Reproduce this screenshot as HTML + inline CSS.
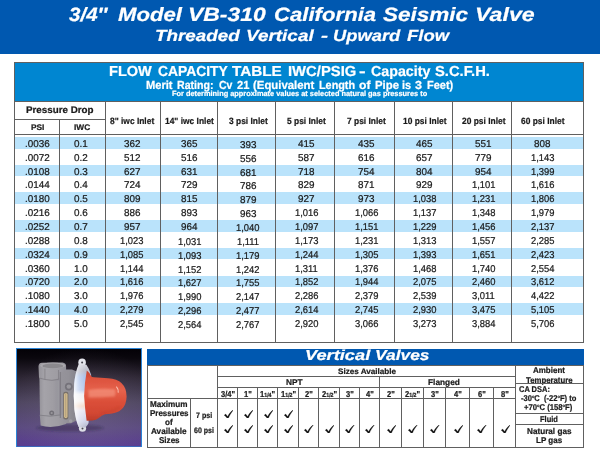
<!DOCTYPE html>
<html lang="en"><head><meta charset="utf-8"><title>3/4" Model VB-310 California Seismic Valve</title>
<style>
html,body{margin:0;padding:0;background:#fff;}
body{width:600px;height:451px;position:relative;overflow:hidden;text-rendering:geometricPrecision;font-family:"Liberation Sans",sans-serif;color:#1a1a1a;}
.t{position:absolute;white-space:nowrap;margin:0;padding:0;transform-origin:0 50%;-webkit-text-stroke:0.22px;}
.r{position:absolute;box-sizing:content-box;}
svg{position:absolute;}
</style></head><body>
<div class="r" style="left:0.00px;top:0.00px;width:600.00px;height:54.00px;background:#0058b0;"></div>
<div class="t" style="left:69.00px;top:4px;font-size:19.2px;line-height:24px;font-weight:700;font-style:italic;color:#fff;transform:scaleX(1.0717);">3/4″</div>
<div class="t" style="left:117.60px;top:4px;font-size:19.2px;line-height:24px;font-weight:700;font-style:italic;color:#fff;transform:scaleX(1.1542);">Model</div>
<div class="t" style="left:188.40px;top:4px;font-size:19.2px;line-height:24px;font-weight:700;font-style:italic;color:#fff;transform:scaleX(1.1950);">VB-310</div>
<div class="t" style="left:274.00px;top:4px;font-size:19.2px;line-height:24px;font-weight:700;font-style:italic;color:#fff;transform:scaleX(1.1541);">California</div>
<div class="t" style="left:383.20px;top:4px;font-size:19.2px;line-height:24px;font-weight:700;font-style:italic;color:#fff;transform:scaleX(1.1739);">Seismic</div>
<div class="t" style="left:475.30px;top:4px;font-size:19.2px;line-height:24px;font-weight:700;font-style:italic;color:#fff;transform:scaleX(1.2071);">Valve</div>
<div class="t" style="left:155.00px;top:27px;font-size:16.0px;line-height:20px;font-weight:700;font-style:italic;color:#fff;transform:scaleX(1.1759);">Threaded</div>
<div class="t" style="left:246.00px;top:27px;font-size:16.0px;line-height:20px;font-weight:700;font-style:italic;color:#fff;transform:scaleX(1.1829);">Vertical</div>
<div class="t" style="left:320.60px;top:27px;font-size:16.0px;line-height:20px;font-weight:700;font-style:italic;color:#fff;transform:scaleX(1.3138);">-</div>
<div class="t" style="left:332.80px;top:27px;font-size:16.0px;line-height:20px;font-weight:700;font-style:italic;color:#fff;transform:scaleX(1.1469);">Upward</div>
<div class="t" style="left:407.20px;top:27px;font-size:16.0px;line-height:20px;font-weight:700;font-style:italic;color:#fff;transform:scaleX(1.1524);">Flow</div>
<div class="r" style="left:14.50px;top:62.00px;width:569.00px;height:39.25px;background:#0086d1;"></div>
<div class="t" style="left:109.20px;top:63px;font-size:14.4px;line-height:19px;font-weight:700;color:#fff;transform:scaleX(1.0099);">FLOW</div>
<div class="t" style="left:158.20px;top:63px;font-size:14.4px;line-height:19px;font-weight:700;color:#fff;transform:scaleX(0.9623);">CAPACITY</div>
<div class="t" style="left:232.20px;top:63px;font-size:14.4px;line-height:19px;font-weight:700;color:#fff;transform:scaleX(1.0612);">TABLE</div>
<div class="t" style="left:287.60px;top:63px;font-size:14.4px;line-height:19px;font-weight:700;color:#fff;transform:scaleX(1.0286);">IWC/PSIG</div>
<div class="t" style="left:359.00px;top:63px;font-size:14.4px;line-height:19px;font-weight:700;color:#fff;transform:scaleX(1.3764);">-</div>
<div class="t" style="left:370.80px;top:63px;font-size:14.4px;line-height:19px;font-weight:700;color:#fff;transform:scaleX(0.9897);">Capacity</div>
<div class="t" style="left:434.60px;top:63px;font-size:14.4px;line-height:19px;font-weight:700;color:#fff;transform:scaleX(1.0259);">S.C.F.H.</div>
<div class="t" style="left:146.20px;top:78px;font-size:11.7px;line-height:15px;font-weight:700;color:#fff;transform:scaleX(0.9517);">Merit</div>
<div class="t" style="left:176.80px;top:78px;font-size:11.7px;line-height:15px;font-weight:700;color:#fff;transform:scaleX(0.9083);">Rating:</div>
<div class="t" style="left:218.80px;top:78px;font-size:11.7px;line-height:15px;font-weight:700;color:#fff;transform:scaleX(0.8962);">Cv</div>
<div class="t" style="left:236.80px;top:78px;font-size:11.7px;line-height:15px;font-weight:700;color:#fff;transform:scaleX(0.9531);">21</div>
<div class="t" style="left:253.20px;top:78px;font-size:11.7px;line-height:15px;font-weight:700;color:#fff;transform:scaleX(0.9736);">(Equivalent</div>
<div class="t" style="left:318.70px;top:78px;font-size:11.7px;line-height:15px;font-weight:700;color:#fff;transform:scaleX(0.9257);">Length</div>
<div class="t" style="left:358.50px;top:78px;font-size:11.7px;line-height:15px;font-weight:700;color:#fff;transform:scaleX(1.0390);">of</div>
<div class="t" style="left:374.50px;top:78px;font-size:11.7px;line-height:15px;font-weight:700;color:#fff;transform:scaleX(0.9713);">Pipe</div>
<div class="t" style="left:402.40px;top:78px;font-size:11.7px;line-height:15px;font-weight:700;color:#fff;transform:scaleX(0.9326);">is</div>
<div class="t" style="left:415.10px;top:78px;font-size:11.7px;line-height:15px;font-weight:700;color:#fff;transform:scaleX(1.0761);">3</div>
<div class="t" style="left:426.60px;top:78px;font-size:11.7px;line-height:15px;font-weight:700;color:#fff;transform:scaleX(0.9373);">Feet)</div>
<div class="t" style="left:171.60px;top:89px;font-size:7.6px;line-height:10px;font-weight:700;color:#fff;transform:scaleX(0.9722);">For determining approximate values at selected natural gas pressures to</div>
<div class="r" style="left:14.50px;top:137.00px;width:569.00px;height:11.50px;background:#bae3fb;"></div>
<div class="r" style="left:14.50px;top:164.72px;width:569.00px;height:11.50px;background:#bae3fb;"></div>
<div class="r" style="left:14.50px;top:192.44px;width:569.00px;height:11.50px;background:#bae3fb;"></div>
<div class="r" style="left:14.50px;top:220.16px;width:569.00px;height:11.50px;background:#bae3fb;"></div>
<div class="r" style="left:14.50px;top:247.88px;width:569.00px;height:11.50px;background:#bae3fb;"></div>
<div class="r" style="left:14.50px;top:275.60px;width:569.00px;height:11.50px;background:#bae3fb;"></div>
<div class="r" style="left:14.50px;top:303.32px;width:569.00px;height:11.50px;background:#bae3fb;"></div>
<div class="t" style="left:25.32px;top:138px;font-size:9.9px;line-height:13px;transform:scaleX(1.0008);">.0036</div>
<div class="t" style="left:74.22px;top:138px;font-size:9.9px;line-height:13px;transform:scaleX(1.0008);">0.1</div>
<div class="t" style="left:123.94px;top:138px;font-size:9.9px;line-height:13px;transform:scaleX(1.0008);">362</div>
<div class="t" style="left:181.44px;top:138px;font-size:9.9px;line-height:13px;transform:scaleX(1.0008);">365</div>
<div class="t" style="left:239.74px;top:139px;font-size:9.9px;line-height:13px;transform:scaleX(1.0008);">393</div>
<div class="t" style="left:298.24px;top:138px;font-size:9.9px;line-height:13px;transform:scaleX(1.0008);">415</div>
<div class="t" style="left:358.04px;top:138px;font-size:9.9px;line-height:13px;transform:scaleX(1.0008);">435</div>
<div class="t" style="left:416.34px;top:138px;font-size:9.9px;line-height:13px;transform:scaleX(1.0008);">465</div>
<div class="t" style="left:475.14px;top:138px;font-size:9.9px;line-height:13px;transform:scaleX(1.0008);">551</div>
<div class="t" style="left:534.44px;top:138px;font-size:9.9px;line-height:13px;transform:scaleX(1.0008);">808</div>
<div class="t" style="left:25.32px;top:152px;font-size:9.9px;line-height:13px;transform:scaleX(1.0008);">.0072</div>
<div class="t" style="left:74.22px;top:152px;font-size:9.9px;line-height:13px;transform:scaleX(1.0008);">0.2</div>
<div class="t" style="left:123.94px;top:152px;font-size:9.9px;line-height:13px;transform:scaleX(1.0008);">512</div>
<div class="t" style="left:181.44px;top:152px;font-size:9.9px;line-height:13px;transform:scaleX(1.0008);">516</div>
<div class="t" style="left:239.74px;top:153px;font-size:9.9px;line-height:13px;transform:scaleX(1.0008);">556</div>
<div class="t" style="left:298.24px;top:152px;font-size:9.9px;line-height:13px;transform:scaleX(1.0008);">587</div>
<div class="t" style="left:358.04px;top:152px;font-size:9.9px;line-height:13px;transform:scaleX(1.0008);">616</div>
<div class="t" style="left:416.34px;top:152px;font-size:9.9px;line-height:13px;transform:scaleX(1.0008);">657</div>
<div class="t" style="left:475.14px;top:152px;font-size:9.9px;line-height:13px;transform:scaleX(1.0008);">779</div>
<div class="t" style="left:530.93px;top:152px;font-size:9.9px;line-height:13px;transform:scaleX(0.9500);">1,143</div>
<div class="t" style="left:25.32px;top:166px;font-size:9.9px;line-height:13px;transform:scaleX(1.0008);">.0108</div>
<div class="t" style="left:74.22px;top:166px;font-size:9.9px;line-height:13px;transform:scaleX(1.0008);">0.3</div>
<div class="t" style="left:123.94px;top:166px;font-size:9.9px;line-height:13px;transform:scaleX(1.0008);">627</div>
<div class="t" style="left:181.44px;top:166px;font-size:9.9px;line-height:13px;transform:scaleX(1.0008);">631</div>
<div class="t" style="left:239.74px;top:167px;font-size:9.9px;line-height:13px;transform:scaleX(1.0008);">681</div>
<div class="t" style="left:298.24px;top:166px;font-size:9.9px;line-height:13px;transform:scaleX(1.0008);">718</div>
<div class="t" style="left:358.04px;top:166px;font-size:9.9px;line-height:13px;transform:scaleX(1.0008);">754</div>
<div class="t" style="left:416.34px;top:166px;font-size:9.9px;line-height:13px;transform:scaleX(1.0008);">804</div>
<div class="t" style="left:475.14px;top:166px;font-size:9.9px;line-height:13px;transform:scaleX(1.0008);">954</div>
<div class="t" style="left:530.93px;top:166px;font-size:9.9px;line-height:13px;transform:scaleX(0.9500);">1,399</div>
<div class="t" style="left:25.32px;top:179px;font-size:9.9px;line-height:13px;transform:scaleX(1.0008);">.0144</div>
<div class="t" style="left:74.22px;top:179px;font-size:9.9px;line-height:13px;transform:scaleX(1.0008);">0.4</div>
<div class="t" style="left:123.94px;top:179px;font-size:9.9px;line-height:13px;transform:scaleX(1.0008);">724</div>
<div class="t" style="left:181.44px;top:179px;font-size:9.9px;line-height:13px;transform:scaleX(1.0008);">729</div>
<div class="t" style="left:239.74px;top:180px;font-size:9.9px;line-height:13px;transform:scaleX(1.0008);">786</div>
<div class="t" style="left:298.24px;top:179px;font-size:9.9px;line-height:13px;transform:scaleX(1.0008);">829</div>
<div class="t" style="left:358.04px;top:179px;font-size:9.9px;line-height:13px;transform:scaleX(1.0008);">871</div>
<div class="t" style="left:416.34px;top:179px;font-size:9.9px;line-height:13px;transform:scaleX(1.0008);">929</div>
<div class="t" style="left:471.63px;top:179px;font-size:9.9px;line-height:13px;transform:scaleX(0.9500);">1,101</div>
<div class="t" style="left:530.93px;top:179px;font-size:9.9px;line-height:13px;transform:scaleX(0.9500);">1,616</div>
<div class="t" style="left:25.32px;top:193px;font-size:9.9px;line-height:13px;transform:scaleX(1.0008);">.0180</div>
<div class="t" style="left:74.22px;top:193px;font-size:9.9px;line-height:13px;transform:scaleX(1.0008);">0.5</div>
<div class="t" style="left:123.94px;top:193px;font-size:9.9px;line-height:13px;transform:scaleX(1.0008);">809</div>
<div class="t" style="left:181.44px;top:193px;font-size:9.9px;line-height:13px;transform:scaleX(1.0008);">815</div>
<div class="t" style="left:239.74px;top:194px;font-size:9.9px;line-height:13px;transform:scaleX(1.0008);">879</div>
<div class="t" style="left:298.24px;top:193px;font-size:9.9px;line-height:13px;transform:scaleX(1.0008);">927</div>
<div class="t" style="left:358.04px;top:193px;font-size:9.9px;line-height:13px;transform:scaleX(1.0008);">973</div>
<div class="t" style="left:412.83px;top:193px;font-size:9.9px;line-height:13px;transform:scaleX(0.9500);">1,038</div>
<div class="t" style="left:471.63px;top:193px;font-size:9.9px;line-height:13px;transform:scaleX(0.9500);">1,231</div>
<div class="t" style="left:530.93px;top:193px;font-size:9.9px;line-height:13px;transform:scaleX(0.9500);">1,806</div>
<div class="t" style="left:25.32px;top:207px;font-size:9.9px;line-height:13px;transform:scaleX(1.0008);">.0216</div>
<div class="t" style="left:74.22px;top:207px;font-size:9.9px;line-height:13px;transform:scaleX(1.0008);">0.6</div>
<div class="t" style="left:123.94px;top:207px;font-size:9.9px;line-height:13px;transform:scaleX(1.0008);">886</div>
<div class="t" style="left:181.44px;top:207px;font-size:9.9px;line-height:13px;transform:scaleX(1.0008);">893</div>
<div class="t" style="left:239.74px;top:208px;font-size:9.9px;line-height:13px;transform:scaleX(1.0008);">963</div>
<div class="t" style="left:294.73px;top:207px;font-size:9.9px;line-height:13px;transform:scaleX(0.9500);">1,016</div>
<div class="t" style="left:354.53px;top:207px;font-size:9.9px;line-height:13px;transform:scaleX(0.9500);">1,066</div>
<div class="t" style="left:412.83px;top:207px;font-size:9.9px;line-height:13px;transform:scaleX(0.9500);">1,137</div>
<div class="t" style="left:471.63px;top:207px;font-size:9.9px;line-height:13px;transform:scaleX(0.9500);">1,348</div>
<div class="t" style="left:530.93px;top:207px;font-size:9.9px;line-height:13px;transform:scaleX(0.9500);">1,979</div>
<div class="t" style="left:25.32px;top:221px;font-size:9.9px;line-height:13px;transform:scaleX(1.0008);">.0252</div>
<div class="t" style="left:74.22px;top:221px;font-size:9.9px;line-height:13px;transform:scaleX(1.0008);">0.7</div>
<div class="t" style="left:123.94px;top:221px;font-size:9.9px;line-height:13px;transform:scaleX(1.0008);">957</div>
<div class="t" style="left:181.44px;top:221px;font-size:9.9px;line-height:13px;transform:scaleX(1.0008);">964</div>
<div class="t" style="left:236.23px;top:222px;font-size:9.9px;line-height:13px;transform:scaleX(0.9500);">1,040</div>
<div class="t" style="left:294.73px;top:221px;font-size:9.9px;line-height:13px;transform:scaleX(0.9500);">1,097</div>
<div class="t" style="left:354.53px;top:221px;font-size:9.9px;line-height:13px;transform:scaleX(0.9500);">1,151</div>
<div class="t" style="left:412.83px;top:221px;font-size:9.9px;line-height:13px;transform:scaleX(0.9500);">1,229</div>
<div class="t" style="left:471.63px;top:221px;font-size:9.9px;line-height:13px;transform:scaleX(0.9500);">1,456</div>
<div class="t" style="left:530.93px;top:221px;font-size:9.9px;line-height:13px;transform:scaleX(0.9500);">2,137</div>
<div class="t" style="left:25.32px;top:235px;font-size:9.9px;line-height:13px;transform:scaleX(1.0008);">.0288</div>
<div class="t" style="left:74.22px;top:235px;font-size:9.9px;line-height:13px;transform:scaleX(1.0008);">0.8</div>
<div class="t" style="left:120.43px;top:235px;font-size:9.9px;line-height:13px;transform:scaleX(0.9500);">1,023</div>
<div class="t" style="left:177.93px;top:236px;font-size:9.9px;line-height:13px;transform:scaleX(0.9500);">1,031</div>
<div class="t" style="left:236.93px;top:236px;font-size:9.9px;line-height:13px;transform:scaleX(0.9500);">1,111</div>
<div class="t" style="left:294.73px;top:235px;font-size:9.9px;line-height:13px;transform:scaleX(0.9500);">1,173</div>
<div class="t" style="left:354.53px;top:235px;font-size:9.9px;line-height:13px;transform:scaleX(0.9500);">1,231</div>
<div class="t" style="left:412.83px;top:235px;font-size:9.9px;line-height:13px;transform:scaleX(0.9500);">1,313</div>
<div class="t" style="left:471.63px;top:235px;font-size:9.9px;line-height:13px;transform:scaleX(0.9500);">1,557</div>
<div class="t" style="left:530.93px;top:235px;font-size:9.9px;line-height:13px;transform:scaleX(0.9500);">2,285</div>
<div class="t" style="left:25.32px;top:249px;font-size:9.9px;line-height:13px;transform:scaleX(1.0008);">.0324</div>
<div class="t" style="left:74.22px;top:249px;font-size:9.9px;line-height:13px;transform:scaleX(1.0008);">0.9</div>
<div class="t" style="left:120.43px;top:249px;font-size:9.9px;line-height:13px;transform:scaleX(0.9500);">1,085</div>
<div class="t" style="left:177.93px;top:250px;font-size:9.9px;line-height:13px;transform:scaleX(0.9500);">1,093</div>
<div class="t" style="left:236.23px;top:250px;font-size:9.9px;line-height:13px;transform:scaleX(0.9500);">1,179</div>
<div class="t" style="left:294.73px;top:249px;font-size:9.9px;line-height:13px;transform:scaleX(0.9500);">1,244</div>
<div class="t" style="left:354.53px;top:249px;font-size:9.9px;line-height:13px;transform:scaleX(0.9500);">1,305</div>
<div class="t" style="left:412.83px;top:249px;font-size:9.9px;line-height:13px;transform:scaleX(0.9500);">1,393</div>
<div class="t" style="left:471.63px;top:249px;font-size:9.9px;line-height:13px;transform:scaleX(0.9500);">1,651</div>
<div class="t" style="left:530.93px;top:249px;font-size:9.9px;line-height:13px;transform:scaleX(0.9500);">2,423</div>
<div class="t" style="left:25.32px;top:263px;font-size:9.9px;line-height:13px;transform:scaleX(1.0008);">.0360</div>
<div class="t" style="left:74.22px;top:263px;font-size:9.9px;line-height:13px;transform:scaleX(1.0008);">1.0</div>
<div class="t" style="left:120.43px;top:263px;font-size:9.9px;line-height:13px;transform:scaleX(0.9500);">1,144</div>
<div class="t" style="left:177.93px;top:264px;font-size:9.9px;line-height:13px;transform:scaleX(0.9500);">1,152</div>
<div class="t" style="left:236.23px;top:264px;font-size:9.9px;line-height:13px;transform:scaleX(0.9500);">1,242</div>
<div class="t" style="left:295.08px;top:263px;font-size:9.9px;line-height:13px;transform:scaleX(0.9500);">1,311</div>
<div class="t" style="left:354.53px;top:263px;font-size:9.9px;line-height:13px;transform:scaleX(0.9500);">1,376</div>
<div class="t" style="left:412.83px;top:263px;font-size:9.9px;line-height:13px;transform:scaleX(0.9500);">1,468</div>
<div class="t" style="left:471.63px;top:263px;font-size:9.9px;line-height:13px;transform:scaleX(0.9500);">1,740</div>
<div class="t" style="left:530.93px;top:263px;font-size:9.9px;line-height:13px;transform:scaleX(0.9500);">2,554</div>
<div class="t" style="left:25.32px;top:276px;font-size:9.9px;line-height:13px;transform:scaleX(1.0008);">.0720</div>
<div class="t" style="left:74.22px;top:276px;font-size:9.9px;line-height:13px;transform:scaleX(1.0008);">2.0</div>
<div class="t" style="left:120.43px;top:276px;font-size:9.9px;line-height:13px;transform:scaleX(0.9500);">1,616</div>
<div class="t" style="left:177.93px;top:277px;font-size:9.9px;line-height:13px;transform:scaleX(0.9500);">1,627</div>
<div class="t" style="left:236.23px;top:277px;font-size:9.9px;line-height:13px;transform:scaleX(0.9500);">1,755</div>
<div class="t" style="left:294.73px;top:276px;font-size:9.9px;line-height:13px;transform:scaleX(0.9500);">1,852</div>
<div class="t" style="left:354.53px;top:276px;font-size:9.9px;line-height:13px;transform:scaleX(0.9500);">1,944</div>
<div class="t" style="left:412.83px;top:276px;font-size:9.9px;line-height:13px;transform:scaleX(0.9500);">2,075</div>
<div class="t" style="left:471.63px;top:276px;font-size:9.9px;line-height:13px;transform:scaleX(0.9500);">2,460</div>
<div class="t" style="left:530.93px;top:276px;font-size:9.9px;line-height:13px;transform:scaleX(0.9500);">3,612</div>
<div class="t" style="left:25.32px;top:290px;font-size:9.9px;line-height:13px;transform:scaleX(1.0008);">.1080</div>
<div class="t" style="left:74.22px;top:290px;font-size:9.9px;line-height:13px;transform:scaleX(1.0008);">3.0</div>
<div class="t" style="left:120.43px;top:290px;font-size:9.9px;line-height:13px;transform:scaleX(0.9500);">1,976</div>
<div class="t" style="left:177.93px;top:291px;font-size:9.9px;line-height:13px;transform:scaleX(0.9500);">1,990</div>
<div class="t" style="left:236.23px;top:291px;font-size:9.9px;line-height:13px;transform:scaleX(0.9500);">2,147</div>
<div class="t" style="left:294.73px;top:290px;font-size:9.9px;line-height:13px;transform:scaleX(0.9500);">2,286</div>
<div class="t" style="left:354.53px;top:290px;font-size:9.9px;line-height:13px;transform:scaleX(0.9500);">2,379</div>
<div class="t" style="left:412.83px;top:290px;font-size:9.9px;line-height:13px;transform:scaleX(0.9500);">2,539</div>
<div class="t" style="left:471.98px;top:290px;font-size:9.9px;line-height:13px;transform:scaleX(0.9500);">3,011</div>
<div class="t" style="left:530.93px;top:290px;font-size:9.9px;line-height:13px;transform:scaleX(0.9500);">4,422</div>
<div class="t" style="left:25.32px;top:304px;font-size:9.9px;line-height:13px;transform:scaleX(1.0008);">.1440</div>
<div class="t" style="left:74.22px;top:304px;font-size:9.9px;line-height:13px;transform:scaleX(1.0008);">4.0</div>
<div class="t" style="left:120.43px;top:304px;font-size:9.9px;line-height:13px;transform:scaleX(0.9500);">2,279</div>
<div class="t" style="left:177.93px;top:305px;font-size:9.9px;line-height:13px;transform:scaleX(0.9500);">2,296</div>
<div class="t" style="left:236.23px;top:305px;font-size:9.9px;line-height:13px;transform:scaleX(0.9500);">2,477</div>
<div class="t" style="left:294.73px;top:304px;font-size:9.9px;line-height:13px;transform:scaleX(0.9500);">2,614</div>
<div class="t" style="left:354.53px;top:304px;font-size:9.9px;line-height:13px;transform:scaleX(0.9500);">2,745</div>
<div class="t" style="left:412.83px;top:304px;font-size:9.9px;line-height:13px;transform:scaleX(0.9500);">2,930</div>
<div class="t" style="left:471.63px;top:304px;font-size:9.9px;line-height:13px;transform:scaleX(0.9500);">3,475</div>
<div class="t" style="left:530.93px;top:304px;font-size:9.9px;line-height:13px;transform:scaleX(0.9500);">5,105</div>
<div class="t" style="left:25.32px;top:318px;font-size:9.9px;line-height:13px;transform:scaleX(1.0008);">.1800</div>
<div class="t" style="left:74.22px;top:318px;font-size:9.9px;line-height:13px;transform:scaleX(1.0008);">5.0</div>
<div class="t" style="left:120.43px;top:318px;font-size:9.9px;line-height:13px;transform:scaleX(0.9500);">2,545</div>
<div class="t" style="left:177.93px;top:319px;font-size:9.9px;line-height:13px;transform:scaleX(0.9500);">2,564</div>
<div class="t" style="left:236.23px;top:319px;font-size:9.9px;line-height:13px;transform:scaleX(0.9500);">2,767</div>
<div class="t" style="left:294.73px;top:318px;font-size:9.9px;line-height:13px;transform:scaleX(0.9500);">2,920</div>
<div class="t" style="left:354.53px;top:318px;font-size:9.9px;line-height:13px;transform:scaleX(0.9500);">3,066</div>
<div class="t" style="left:412.83px;top:318px;font-size:9.9px;line-height:13px;transform:scaleX(0.9500);">3,273</div>
<div class="t" style="left:471.63px;top:318px;font-size:9.9px;line-height:13px;transform:scaleX(0.9500);">3,884</div>
<div class="t" style="left:530.93px;top:318px;font-size:9.9px;line-height:13px;transform:scaleX(0.9500);">5,706</div>
<div class="t" style="left:26.20px;top:104px;font-size:9.6px;line-height:13px;font-weight:700;transform:scaleX(1.0217);">Pressure Drop</div>
<div class="t" style="left:30.88px;top:122px;font-size:8.1px;line-height:11px;font-weight:700;transform:scaleX(1.0300);">PSI</div>
<div class="t" style="left:74.49px;top:122px;font-size:8.1px;line-height:11px;font-weight:700;transform:scaleX(1.0300);">IWC</div>
<div class="t" style="left:110.29px;top:115px;font-size:9.1px;line-height:12px;font-weight:700;transform:scaleX(0.9250);">8" iwc Inlet</div>
<div class="t" style="left:165.45px;top:115px;font-size:9.1px;line-height:12px;font-weight:700;transform:scaleX(0.9250);">14" iwc Inlet</div>
<div class="t" style="left:228.79px;top:115px;font-size:9.1px;line-height:12px;font-weight:700;transform:scaleX(0.9250);">3 psi Inlet</div>
<div class="t" style="left:287.29px;top:115px;font-size:9.1px;line-height:12px;font-weight:700;transform:scaleX(0.9250);">5 psi Inlet</div>
<div class="t" style="left:347.09px;top:115px;font-size:9.1px;line-height:12px;font-weight:700;transform:scaleX(0.9250);">7 psi Inlet</div>
<div class="t" style="left:403.05px;top:115px;font-size:9.1px;line-height:12px;font-weight:700;transform:scaleX(0.9250);">10 psi Inlet</div>
<div class="t" style="left:461.85px;top:115px;font-size:9.1px;line-height:12px;font-weight:700;transform:scaleX(0.9250);">20 psi Inlet</div>
<div class="t" style="left:521.15px;top:115px;font-size:9.1px;line-height:12px;font-weight:700;transform:scaleX(0.9250);">60 psi Inlet</div>
<div class="r" style="left:14.50px;top:100.75px;width:569.00px;height:1.00px;background:#606060;"></div>
<div class="r" style="left:14.50px;top:119.00px;width:90.50px;height:1.00px;background:#606060;"></div>
<div class="r" style="left:14.50px;top:133.50px;width:569.00px;height:1.00px;background:#606060;"></div>
<div class="r" style="left:59.00px;top:119.50px;width:1.00px;height:223.00px;background:#606060;"></div>
<div class="r" style="left:104.50px;top:101.25px;width:1.00px;height:241.25px;background:#606060;"></div>
<div class="r" style="left:159.50px;top:101.25px;width:1.00px;height:241.25px;background:#606060;"></div>
<div class="r" style="left:217.00px;top:101.25px;width:1.00px;height:241.25px;background:#606060;"></div>
<div class="r" style="left:275.25px;top:101.25px;width:1.00px;height:241.25px;background:#606060;"></div>
<div class="r" style="left:333.75px;top:101.25px;width:1.00px;height:241.25px;background:#606060;"></div>
<div class="r" style="left:393.75px;top:101.25px;width:1.00px;height:241.25px;background:#606060;"></div>
<div class="r" style="left:452.00px;top:101.25px;width:1.00px;height:241.25px;background:#606060;"></div>
<div class="r" style="left:510.75px;top:101.25px;width:1.00px;height:241.25px;background:#606060;"></div>
<div class="r" style="left:14.00px;top:61.50px;width:568.00px;height:279.50px;border:1px solid #606060;"></div>
<svg style="left:16.0px;top:348.0px" width="126" height="99.4" viewBox="0 0 126 99.4">
<defs>
<linearGradient id="bg" x1="0" y1="0" x2="0" y2="1">
<stop offset="0" stop-color="#030106"/><stop offset="0.1" stop-color="#0a070d"/><stop offset="0.3" stop-color="#2e2735"/>
<stop offset="0.55" stop-color="#4e4560"/><stop offset="0.8" stop-color="#5b4a80"/><stop offset="1" stop-color="#5a3c93"/></linearGradient>
<radialGradient id="bg2" cx="0.55" cy="0.6" r="0.6"><stop offset="0" stop-color="#8a8098" stop-opacity="0.30"/><stop offset="1" stop-color="#8a8098" stop-opacity="0"/></radialGradient>
<linearGradient id="pipe" x1="0" y1="0" x2="1" y2="0">
<stop offset="0" stop-color="#95939a"/><stop offset="0.22" stop-color="#a5a3a9"/><stop offset="0.65" stop-color="#9f9da3"/><stop offset="1" stop-color="#93919a"/></linearGradient>
<linearGradient id="side" x1="0" y1="0" x2="1" y2="0">
<stop offset="0" stop-color="#96949b"/><stop offset="0.5" stop-color="#939198"/><stop offset="1" stop-color="#84828b"/></linearGradient>
<linearGradient id="ring" x1="0" y1="0" x2="0" y2="1">
<stop offset="0" stop-color="#d2d3dc"/><stop offset="0.1" stop-color="#bbbcc9"/><stop offset="0.2" stop-color="#a9c0ea"/><stop offset="0.4" stop-color="#b6caee"/>
<stop offset="0.47" stop-color="#eef0f6"/><stop offset="0.58" stop-color="#f6f4f2"/><stop offset="0.66" stop-color="#f3d9c8"/><stop offset="0.73" stop-color="#e6e6f2"/>
<stop offset="0.9" stop-color="#cfd3ea"/><stop offset="1" stop-color="#b5b8cc"/></linearGradient>
<linearGradient id="ringx" x1="0" y1="0" x2="1" y2="0">
<stop offset="0" stop-color="#ffffff" stop-opacity="0.9"/><stop offset="0.3" stop-color="#ffffff" stop-opacity="0.35"/><stop offset="0.7" stop-color="#ffffff" stop-opacity="0"/></linearGradient>
<linearGradient id="red" x1="0" y1="0" x2="0" y2="1">
<stop offset="0" stop-color="#c6432f"/><stop offset="0.16" stop-color="#dc523d"/><stop offset="0.4" stop-color="#e6624c"/>
<stop offset="0.62" stop-color="#db4f39"/><stop offset="0.85" stop-color="#d24733"/><stop offset="1" stop-color="#bc3c2a"/></linearGradient>
<filter id="bl" x="-5%" y="-5%" width="110%" height="110%"><feGaussianBlur stdDeviation="0.5"/></filter>
<filter id="bl2" x="-30%" y="-30%" width="160%" height="160%"><feGaussianBlur stdDeviation="1.3"/></filter>
</defs>
<rect x="0" y="0" width="126" height="99.4" fill="url(#bg)"/>
<rect x="0" y="0" width="126" height="99.4" fill="url(#bg2)"/>
<g filter="url(#bl)">
<ellipse cx="54.00" cy="80.00" rx="34" ry="3.5" fill="#2c2440" opacity="0.35" filter="url(#bl2)"/>
<path d="M43.00,23.50 L50.00,21.60 L56.00,21.40 L60.80,23.50 L61.50,72.00 L55.00,75.20 L43.00,75.50 Z" fill="url(#side)"/>
<path d="M23.40,29.00 L44.20,29.00 L44.20,69.00 L24.00,69.00 Z" fill="url(#pipe)"/>
<path d="M22.50,18.40 Q22.50,15.20 26.00,14.80 L46.50,14.60 Q50.10,15.00 50.10,18.40 L50.10,22.80 L44.20,24.20 L44.20,29.50 Q36.00,33.00 28.90,31.30 L23.00,29.80 Z" fill="url(#pipe)"/>
<ellipse cx="36.80" cy="17.50" rx="12.6" ry="3.0" fill="#a9a7ac"/>
<ellipse cx="36.80" cy="17.90" rx="10.4" ry="2.3" fill="#8b898e"/>
<path d="M23.20,30.00 L28.90,31.50 Q36.00,33.20 42.60,31.40 L42.60,22.00" stroke="#7d7b81" stroke-width="0.8" fill="none"/>
<path d="M28.90,20.60 L28.90,31.30" stroke="#7d7b80" stroke-width="0.7" fill="none"/>
<path d="M23.80,67.00 Q34.00,69.00 46.50,66.60 L51.50,72.00 L50.00,76.00 Q36.00,81.20 24.60,77.60 Z" fill="url(#pipe)"/>
<path d="M23.90,67.20 Q34.00,69.30 44.50,67.00" stroke="#7e7c83" stroke-width="0.8" fill="none"/>
<circle cx="54.60" cy="73.00" r="1.8" fill="#a09ea4"/>
<path d="M44.30,24.00 L44.30,70.00" stroke="#79777e" stroke-width="0.9"/>
<path d="M42.20,33.00 L42.20,66.00" stroke="#9f9da2" stroke-width="0.8"/>
<circle cx="52.80" cy="38.60" r="3.9" fill="#74727a"/>
<circle cx="52.80" cy="38.60" r="2.2" fill="#9a989e"/>
<circle cx="35.70" cy="65.00" r="2.5" fill="#727077"/>
<circle cx="35.70" cy="65.00" r="1.1" fill="#99979d"/>
<rect x="47.20" y="43.80" width="5.2" height="27.6" rx="2" fill="#77706a"/>
<rect x="48.10" y="45.20" width="3.4" height="24.8" rx="1.4" fill="#d8c090"/>
<path d="M49.80,46.40 L49.80,69.00" stroke="#8a7c66" stroke-width="0.9" stroke-dasharray="1.2 0.8"/>
<circle cx="66.10" cy="14.40" r="3.8" fill="#e4e5ec"/>
<circle cx="66.10" cy="14.50" r="1.0" fill="#45454d"/>
<circle cx="66.50" cy="80.20" r="3.6" fill="#dddee6"/>
<circle cx="66.50" cy="80.50" r="1.0" fill="#45454d"/>
<path d="M62.60,16.60 Q59.20,25.00 58.20,36.00 Q57.20,48.00 58.40,61.30 Q59.60,72.00 62.60,79.00 L69.50,79.50 Q71.40,77.50 72.60,75.00 L72.00,48.00 L75.20,27.00 Q73.50,21.00 70.40,16.80 Z" fill="url(#ring)"/>
<path d="M62.60,16.60 Q59.20,25.00 58.20,36.00 Q57.20,48.00 58.40,61.30 Q59.60,72.00 62.60,79.00 L69.50,79.50 Q71.40,77.50 72.60,75.00 L72.00,48.00 L75.20,27.00 Q73.50,21.00 70.40,16.80 Z" fill="url(#ringx)"/>
<path d="M70.80,22.40 Q73.60,24.60 74.80,27.40 Q75.60,29.20 78.00,29.30 L92.00,30.30 Q110.30,31.50 110.60,48.40 Q110.30,65.00 92.00,66.00 L89.00,66.20 Q85.50,67.20 82.80,70.00 Q80.00,72.40 76.60,72.40 L70.60,72.80 Q68.90,60.00 68.10,48.00 Q68.60,34.00 70.80,22.40 Z" fill="url(#red)"/>
<path d="M72.50,42.00 Q86.00,39.80 98.50,41.20 Q100.50,45.00 98.50,48.40 Q86.00,49.40 72.50,49.60 Z" fill="#f79a84" opacity="0.62" filter="url(#bl2)"/>
<path d="M100.40,38.60 Q102.60,41.00 102.20,44.60" stroke="#ffd2c4" stroke-width="1.1" fill="none" opacity="0.85"/>
<path d="M84.00,65.00 Q96.00,64.50 104.00,59.00" stroke="#b93624" stroke-width="1.6" fill="none" opacity="0.35" filter="url(#bl2)"/>
</g>
<rect x="0.5" y="0.5" width="125" height="98.4" fill="none" stroke="#2b84d6" stroke-width="1"/>
</svg>
<div class="r" style="left:147.00px;top:349.20px;width:436.60px;height:16.10px;background:#0058b0;"></div>
<div class="t" style="left:304.70px;top:347px;font-size:14.5px;line-height:19px;font-weight:700;font-style:italic;color:#fff;transform:scaleX(1.2572);">Vertical</div>
<div class="t" style="left:374.70px;top:347px;font-size:14.5px;line-height:19px;font-weight:700;font-style:italic;color:#fff;transform:scaleX(1.2001);">Valves</div>
<div class="t" style="left:337.50px;top:366px;font-size:8.0px;line-height:11px;font-weight:700;transform:scaleX(1.0137);">Sizes Available</div>
<div class="t" style="left:285.70px;top:377px;font-size:8.3px;line-height:11px;font-weight:700;transform:scaleX(1.0008);">NPT</div>
<div class="t" style="left:427.69px;top:377px;font-size:8.3px;line-height:11px;font-weight:700;transform:scaleX(1.0008);">Flanged</div>
<div class="t" style="left:150.00px;top:399px;font-size:8.5px;line-height:11px;font-weight:700;transform:scaleX(0.9591);">Maximum</div>
<div class="t" style="left:149.70px;top:408px;font-size:8.5px;line-height:11px;font-weight:700;transform:scaleX(0.9364);">Pressures</div>
<div class="t" style="left:165.38px;top:417px;font-size:8.5px;line-height:11px;font-weight:700;transform:scaleX(0.9500);">of</div>
<div class="t" style="left:151.30px;top:426px;font-size:8.5px;line-height:11px;font-weight:700;transform:scaleX(0.9619);">Available</div>
<div class="t" style="left:158.80px;top:435px;font-size:8.5px;line-height:11px;font-weight:700;transform:scaleX(0.9478);">Sizes</div>
<div class="t" style="left:195.70px;top:410px;font-size:8.0px;line-height:11px;font-weight:700;transform:scaleX(0.8885);">7 psi</div>
<div class="t" style="left:193.80px;top:425px;font-size:8.0px;line-height:11px;font-weight:700;transform:scaleX(0.8818);">60 psi</div>
<div class="t" style="left:533.30px;top:365px;font-size:8.4px;line-height:11px;font-weight:700;transform:scaleX(0.9524);">Ambient</div>
<div class="t" style="left:526.00px;top:375px;font-size:8.4px;line-height:11px;font-weight:700;transform:scaleX(0.9292);">Temperature</div>
<div class="t" style="left:519.10px;top:384px;font-size:8.4px;line-height:11px;font-weight:700;transform:scaleX(0.8938);">CA DSA:</div>
<div class="t" style="left:540.00px;top:414px;font-size:8.4px;line-height:11px;font-weight:700;transform:scaleX(0.8973);">Fluid</div>
<div class="t" style="left:527.00px;top:426px;font-size:8.4px;line-height:11px;font-weight:700;transform:scaleX(0.9749);">Natural gas</div>
<div class="t" style="left:536.00px;top:435px;font-size:8.4px;line-height:11px;font-weight:700;transform:scaleX(0.9601);">LP gas</div>
<div class="r" style="left:147.00px;top:364.80px;width:436.60px;height:1.00px;background:#606060;"></div>
<div class="r" style="left:217.50px;top:376.00px;width:298.25px;height:1.00px;background:#606060;"></div>
<div class="r" style="left:217.50px;top:386.70px;width:298.25px;height:1.00px;background:#606060;"></div>
<div class="r" style="left:147.00px;top:398.25px;width:368.75px;height:1.00px;background:#606060;"></div>
<div class="r" style="left:515.75px;top:383.30px;width:67.85px;height:1.00px;background:#606060;"></div>
<div class="r" style="left:515.75px;top:412.70px;width:67.85px;height:1.00px;background:#606060;"></div>
<div class="r" style="left:515.75px;top:424.00px;width:67.85px;height:1.00px;background:#606060;"></div>
<div class="r" style="left:190.25px;top:398.75px;width:1.00px;height:48.75px;background:#606060;"></div>
<div class="r" style="left:217.00px;top:365.30px;width:1.00px;height:82.20px;background:#606060;"></div>
<div class="r" style="left:237.00px;top:387.20px;width:1.00px;height:60.30px;background:#606060;"></div>
<div class="r" style="left:257.00px;top:387.20px;width:1.00px;height:60.30px;background:#606060;"></div>
<div class="r" style="left:277.00px;top:387.20px;width:1.00px;height:60.30px;background:#606060;"></div>
<div class="r" style="left:297.50px;top:387.20px;width:1.00px;height:60.30px;background:#606060;"></div>
<div class="r" style="left:318.25px;top:387.20px;width:1.00px;height:60.30px;background:#606060;"></div>
<div class="r" style="left:338.75px;top:387.20px;width:1.00px;height:60.30px;background:#606060;"></div>
<div class="r" style="left:358.75px;top:387.20px;width:1.00px;height:60.30px;background:#606060;"></div>
<div class="r" style="left:378.75px;top:376.50px;width:1.00px;height:71.00px;background:#606060;"></div>
<div class="r" style="left:401.25px;top:387.20px;width:1.00px;height:60.30px;background:#606060;"></div>
<div class="r" style="left:422.50px;top:387.20px;width:1.00px;height:60.30px;background:#606060;"></div>
<div class="r" style="left:445.25px;top:387.20px;width:1.00px;height:60.30px;background:#606060;"></div>
<div class="r" style="left:468.75px;top:387.20px;width:1.00px;height:60.30px;background:#606060;"></div>
<div class="r" style="left:492.75px;top:387.20px;width:1.00px;height:60.30px;background:#606060;"></div>
<div class="r" style="left:515.25px;top:365.30px;width:1.00px;height:82.20px;background:#606060;"></div>
<div class="r" style="left:146.50px;top:365.30px;width:435.60px;height:81.70px;border:1px solid #606060;border-top:none;"></div>
<div class="t" style="left:220.95px;top:389px;font-size:8.6px;line-height:11px;font-weight:700;transform:scaleX(0.88);">3/4&quot;</div>
<div class="t" style="left:244.10px;top:389px;font-size:8.6px;line-height:11px;font-weight:700;transform:scaleX(0.88);">1&quot;</div>
<div class="t" style="left:260.43px;top:389px;font-size:8.6px;line-height:11px;font-weight:700;transform:scaleX(0.88);">1<span style="font-size:6.0px">1/4</span>&quot;</div>
<div class="t" style="left:280.68px;top:389px;font-size:8.6px;line-height:11px;font-weight:700;transform:scaleX(0.88);">1<span style="font-size:6.0px">1/2</span>&quot;</div>
<div class="t" style="left:304.98px;top:389px;font-size:8.6px;line-height:11px;font-weight:700;transform:scaleX(0.88);">2&quot;</div>
<div class="t" style="left:321.93px;top:389px;font-size:8.6px;line-height:11px;font-weight:700;transform:scaleX(0.88);">2<span style="font-size:6.0px">1/2</span>&quot;</div>
<div class="t" style="left:345.85px;top:389px;font-size:8.6px;line-height:11px;font-weight:700;transform:scaleX(0.88);">3&quot;</div>
<div class="t" style="left:365.85px;top:389px;font-size:8.6px;line-height:11px;font-weight:700;transform:scaleX(0.88);">4&quot;</div>
<div class="t" style="left:387.10px;top:389px;font-size:8.6px;line-height:11px;font-weight:700;transform:scaleX(0.88);">2&quot;</div>
<div class="t" style="left:405.31px;top:389px;font-size:8.6px;line-height:11px;font-weight:700;transform:scaleX(0.88);">2<span style="font-size:6.0px">1/2</span>&quot;</div>
<div class="t" style="left:430.98px;top:389px;font-size:8.6px;line-height:11px;font-weight:700;transform:scaleX(0.88);">3&quot;</div>
<div class="t" style="left:454.10px;top:389px;font-size:8.6px;line-height:11px;font-weight:700;transform:scaleX(0.88);">4&quot;</div>
<div class="t" style="left:477.85px;top:389px;font-size:8.6px;line-height:11px;font-weight:700;transform:scaleX(0.88);">6&quot;</div>
<div class="t" style="left:501.10px;top:389px;font-size:8.6px;line-height:11px;font-weight:700;transform:scaleX(0.88);">8&quot;</div>
<svg style="left:223.50px;top:409.50px" width="9.4" height="8.6" viewBox="0 0 9.4 8.6"><path d="M0.2,5.2 L1.7,4.1 L3.6,6.5 C5,3.8 7,1.5 8.9,0 L9.2,0.35 C7.4,2.5 5.5,5.4 4.3,8.4 L3.2,8.4 C2.4,7 1.4,6 0.2,5.2 Z" fill="#111" stroke="#111" stroke-width="0.25"/></svg>
<svg style="left:223.50px;top:424.70px" width="9.4" height="8.6" viewBox="0 0 9.4 8.6"><path d="M0.2,5.2 L1.7,4.1 L3.6,6.5 C5,3.8 7,1.5 8.9,0 L9.2,0.35 C7.4,2.5 5.5,5.4 4.3,8.4 L3.2,8.4 C2.4,7 1.4,6 0.2,5.2 Z" fill="#111" stroke="#111" stroke-width="0.25"/></svg>
<svg style="left:243.50px;top:409.50px" width="9.4" height="8.6" viewBox="0 0 9.4 8.6"><path d="M0.2,5.2 L1.7,4.1 L3.6,6.5 C5,3.8 7,1.5 8.9,0 L9.2,0.35 C7.4,2.5 5.5,5.4 4.3,8.4 L3.2,8.4 C2.4,7 1.4,6 0.2,5.2 Z" fill="#111" stroke="#111" stroke-width="0.25"/></svg>
<svg style="left:243.50px;top:424.70px" width="9.4" height="8.6" viewBox="0 0 9.4 8.6"><path d="M0.2,5.2 L1.7,4.1 L3.6,6.5 C5,3.8 7,1.5 8.9,0 L9.2,0.35 C7.4,2.5 5.5,5.4 4.3,8.4 L3.2,8.4 C2.4,7 1.4,6 0.2,5.2 Z" fill="#111" stroke="#111" stroke-width="0.25"/></svg>
<svg style="left:263.50px;top:409.50px" width="9.4" height="8.6" viewBox="0 0 9.4 8.6"><path d="M0.2,5.2 L1.7,4.1 L3.6,6.5 C5,3.8 7,1.5 8.9,0 L9.2,0.35 C7.4,2.5 5.5,5.4 4.3,8.4 L3.2,8.4 C2.4,7 1.4,6 0.2,5.2 Z" fill="#111" stroke="#111" stroke-width="0.25"/></svg>
<svg style="left:263.50px;top:424.70px" width="9.4" height="8.6" viewBox="0 0 9.4 8.6"><path d="M0.2,5.2 L1.7,4.1 L3.6,6.5 C5,3.8 7,1.5 8.9,0 L9.2,0.35 C7.4,2.5 5.5,5.4 4.3,8.4 L3.2,8.4 C2.4,7 1.4,6 0.2,5.2 Z" fill="#111" stroke="#111" stroke-width="0.25"/></svg>
<svg style="left:283.75px;top:409.50px" width="9.4" height="8.6" viewBox="0 0 9.4 8.6"><path d="M0.2,5.2 L1.7,4.1 L3.6,6.5 C5,3.8 7,1.5 8.9,0 L9.2,0.35 C7.4,2.5 5.5,5.4 4.3,8.4 L3.2,8.4 C2.4,7 1.4,6 0.2,5.2 Z" fill="#111" stroke="#111" stroke-width="0.25"/></svg>
<svg style="left:283.75px;top:424.70px" width="9.4" height="8.6" viewBox="0 0 9.4 8.6"><path d="M0.2,5.2 L1.7,4.1 L3.6,6.5 C5,3.8 7,1.5 8.9,0 L9.2,0.35 C7.4,2.5 5.5,5.4 4.3,8.4 L3.2,8.4 C2.4,7 1.4,6 0.2,5.2 Z" fill="#111" stroke="#111" stroke-width="0.25"/></svg>
<svg style="left:304.38px;top:424.70px" width="9.4" height="8.6" viewBox="0 0 9.4 8.6"><path d="M0.2,5.2 L1.7,4.1 L3.6,6.5 C5,3.8 7,1.5 8.9,0 L9.2,0.35 C7.4,2.5 5.5,5.4 4.3,8.4 L3.2,8.4 C2.4,7 1.4,6 0.2,5.2 Z" fill="#111" stroke="#111" stroke-width="0.25"/></svg>
<svg style="left:325.00px;top:424.70px" width="9.4" height="8.6" viewBox="0 0 9.4 8.6"><path d="M0.2,5.2 L1.7,4.1 L3.6,6.5 C5,3.8 7,1.5 8.9,0 L9.2,0.35 C7.4,2.5 5.5,5.4 4.3,8.4 L3.2,8.4 C2.4,7 1.4,6 0.2,5.2 Z" fill="#111" stroke="#111" stroke-width="0.25"/></svg>
<svg style="left:345.25px;top:424.70px" width="9.4" height="8.6" viewBox="0 0 9.4 8.6"><path d="M0.2,5.2 L1.7,4.1 L3.6,6.5 C5,3.8 7,1.5 8.9,0 L9.2,0.35 C7.4,2.5 5.5,5.4 4.3,8.4 L3.2,8.4 C2.4,7 1.4,6 0.2,5.2 Z" fill="#111" stroke="#111" stroke-width="0.25"/></svg>
<svg style="left:365.25px;top:424.70px" width="9.4" height="8.6" viewBox="0 0 9.4 8.6"><path d="M0.2,5.2 L1.7,4.1 L3.6,6.5 C5,3.8 7,1.5 8.9,0 L9.2,0.35 C7.4,2.5 5.5,5.4 4.3,8.4 L3.2,8.4 C2.4,7 1.4,6 0.2,5.2 Z" fill="#111" stroke="#111" stroke-width="0.25"/></svg>
<svg style="left:386.50px;top:424.70px" width="9.4" height="8.6" viewBox="0 0 9.4 8.6"><path d="M0.2,5.2 L1.7,4.1 L3.6,6.5 C5,3.8 7,1.5 8.9,0 L9.2,0.35 C7.4,2.5 5.5,5.4 4.3,8.4 L3.2,8.4 C2.4,7 1.4,6 0.2,5.2 Z" fill="#111" stroke="#111" stroke-width="0.25"/></svg>
<svg style="left:408.38px;top:424.70px" width="9.4" height="8.6" viewBox="0 0 9.4 8.6"><path d="M0.2,5.2 L1.7,4.1 L3.6,6.5 C5,3.8 7,1.5 8.9,0 L9.2,0.35 C7.4,2.5 5.5,5.4 4.3,8.4 L3.2,8.4 C2.4,7 1.4,6 0.2,5.2 Z" fill="#111" stroke="#111" stroke-width="0.25"/></svg>
<svg style="left:430.38px;top:424.70px" width="9.4" height="8.6" viewBox="0 0 9.4 8.6"><path d="M0.2,5.2 L1.7,4.1 L3.6,6.5 C5,3.8 7,1.5 8.9,0 L9.2,0.35 C7.4,2.5 5.5,5.4 4.3,8.4 L3.2,8.4 C2.4,7 1.4,6 0.2,5.2 Z" fill="#111" stroke="#111" stroke-width="0.25"/></svg>
<svg style="left:453.50px;top:424.70px" width="9.4" height="8.6" viewBox="0 0 9.4 8.6"><path d="M0.2,5.2 L1.7,4.1 L3.6,6.5 C5,3.8 7,1.5 8.9,0 L9.2,0.35 C7.4,2.5 5.5,5.4 4.3,8.4 L3.2,8.4 C2.4,7 1.4,6 0.2,5.2 Z" fill="#111" stroke="#111" stroke-width="0.25"/></svg>
<svg style="left:477.25px;top:424.70px" width="9.4" height="8.6" viewBox="0 0 9.4 8.6"><path d="M0.2,5.2 L1.7,4.1 L3.6,6.5 C5,3.8 7,1.5 8.9,0 L9.2,0.35 C7.4,2.5 5.5,5.4 4.3,8.4 L3.2,8.4 C2.4,7 1.4,6 0.2,5.2 Z" fill="#111" stroke="#111" stroke-width="0.25"/></svg>
<svg style="left:500.50px;top:424.70px" width="9.4" height="8.6" viewBox="0 0 9.4 8.6"><path d="M0.2,5.2 L1.7,4.1 L3.6,6.5 C5,3.8 7,1.5 8.9,0 L9.2,0.35 C7.4,2.5 5.5,5.4 4.3,8.4 L3.2,8.4 C2.4,7 1.4,6 0.2,5.2 Z" fill="#111" stroke="#111" stroke-width="0.25"/></svg>
<div class="t" style="left:521.47px;top:393px;font-size:8.4px;line-height:11px;font-weight:700;transform:scaleX(0.9035);">-30<span style="font-size:4.4px;position:relative;top:-3.4px">o</span>C&nbsp;&nbsp;(-22<span style="font-size:4.4px;position:relative;top:-3.4px">o</span>F)&nbsp;to</div>
<div class="t" style="left:524.47px;top:402px;font-size:8.4px;line-height:11px;font-weight:700;transform:scaleX(0.9185);">+70<span style="font-size:4.4px;position:relative;top:-3.4px">o</span>C&nbsp;(158<span style="font-size:4.4px;position:relative;top:-3.4px">o</span>F)</div>
<!--T2EXTRA-->
</body></html>
